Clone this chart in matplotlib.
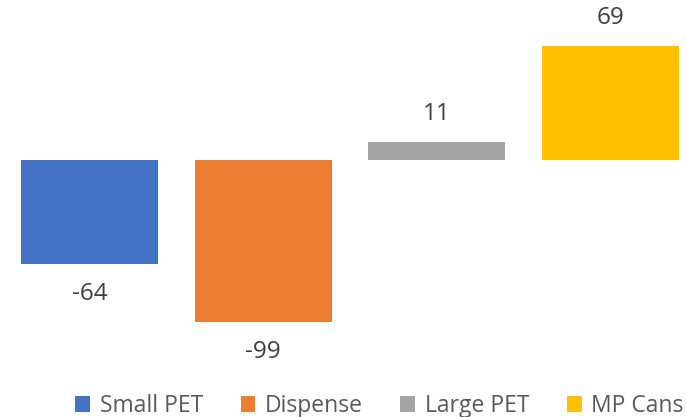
import matplotlib
matplotlib.use("Agg")
import matplotlib.pyplot as plt

# data
series = ["Small PET", "Dispense", "Large PET", "MP Cans"]
values = [-64, -99, 11, 69]
colors = ["#4472C4", "#ED7D31", "#A5A5A5", "#FFC000"]

plt.rcParams['font.family'] = ['Open Sans', 'DejaVu Sans']

fig = plt.figure(figsize=(6.86, 4.17), dpi=100)
ax = fig.add_axes([0, 0, 1, 1])

for i, (name, v, c) in enumerate(zip(series, values, colors)):
    ax.bar(i, v, width=0.79, color=c, label=name)
    off = 28 if v > 0 else -30
    ax.annotate(str(v), (i, v), xytext=(0, off), textcoords="offset pixels",
                ha="center", va="center", fontsize=17.5, color="#404040")

ax.set_xlim(-0.515, 3.435)
ax.set_ylim(-157.0, 97.3)
ax.axis("off")

fig.legend(loc="center", bbox_to_anchor=(0.553, 11 / 417), ncol=4, frameon=False,
           fontsize=16.5, labelcolor="#595959", handlelength=0.65, handleheight=0.65,
           handletextpad=0.4, columnspacing=1.65, borderaxespad=0)

fig.savefig("out.png", dpi=100)
